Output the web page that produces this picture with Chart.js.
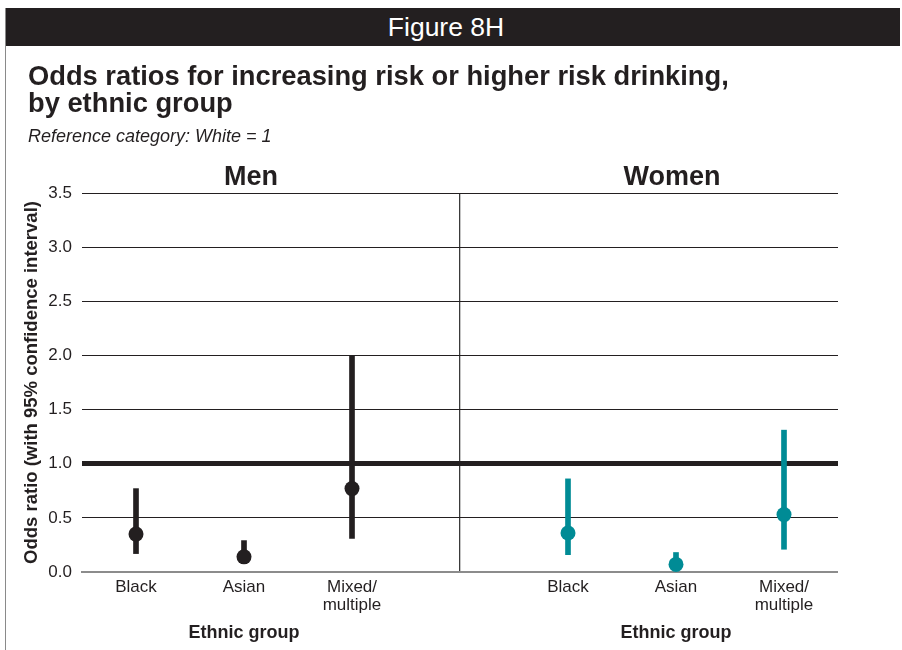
<!DOCTYPE html>
<html>
<head>
<meta charset="utf-8">
<script src="https://cdn.jsdelivr.net/npm/chart.js@4/dist/chart.umd.min.js"></script>
<style>
  html, body { margin: 0; padding: 0; background: #fff; }
  body { width: 902px; height: 650px; position: relative; overflow: hidden;
         font-family: "Liberation Sans", Arial, Helvetica, sans-serif; color: #231f20; }
  #frame { position: absolute; left: 5px; top: 8px; width: 1px; height: 642px; background: #8a8a8a; }
  #header { position: absolute; left: 6px; top: 8px; width: 880px; padding-right: 14px; height: 38px;
            background: #231f20; color: #fff; font-size: 26.5px; line-height: 39px; text-align: center; }
  #title { position: absolute; left: 28px; top: 62px; font-size: 27.3px; line-height: 27px; font-weight: bold;
           white-space: nowrap; }
  #subtitle { position: absolute; left: 28px; top: 126px; font-size: 18px; line-height: 20px; font-style: italic; }
  #chart { position: absolute; left: 0; top: 0; }
</style>
</head>
<body>
<canvas id="chart" width="902" height="650"></canvas>
<div id="frame"></div>
<div id="header">Figure 8H</div>
<div id="title">Odds ratios for increasing risk or higher risk drinking,<br>by ethnic group</div>
<div id="subtitle">Reference category: White = 1</div>
<script>
// Ethnic groups shown in each panel (White is the reference, OR = 1)
const groups = ['Black', 'Asian', ['Mixed/', 'multiple']];
const panels = ['Men', 'Women'];
const axisGroupTitle = 'Ethnic group';
const yTicks = [0, 0.5, 1, 1.5, 2, 2.5, 3, 3.5];

// Odds ratios with 95% confidence intervals
const menOR    = [0.35, 0.14, 0.77];
const menLow   = [0.17, 0.08, 0.31];
const menHigh  = [0.77, 0.29, 2.00];
const womenOR   = [0.36, 0.07, 0.53];
const womenLow  = [0.16, 0.03, 0.21];
const womenHigh = [0.86, 0.18, 1.31];

const INK = '#231f20';
const TEAL = '#008b95';

// Seven slots on the x axis: three men's groups, a spacer (panel divider), three women's groups
const labels = [...groups, '', ...groups];
const gap = [null];
const blank3 = [null, null, null];
const menCI = [...menLow.map((lo, i) => [lo, menHigh[i]]), ...gap, ...blank3];
const womenCI = [...blank3, ...gap, ...womenLow.map((lo, i) => [lo, womenHigh[i]])];
const menPts = [...menOR, ...gap, ...blank3];
const womenPts = [...blank3, ...gap, ...womenOR];
const DIVIDER_INDEX = 3;

const FONT = '"Liberation Sans", Arial, Helvetica, sans-serif';
Chart.defaults.font.family = FONT;
Chart.defaults.color = INK;

// Panel headings above and group titles below each panel
const panelText = {
  id: 'panelText',
  afterDraw(chart) {
    const { ctx, scales: { x } } = chart;
    ctx.save();
    ctx.fillStyle = INK;
    ctx.textAlign = 'center';
    ctx.textBaseline = 'alphabetic';
    ctx.font = 'bold 27px ' + FONT;
    ctx.fillText(panels[0], x.getPixelForValue(1) + 7, 185);
    ctx.fillText(panels[1], x.getPixelForValue(5) - 4, 185);
    ctx.font = 'bold 18px ' + FONT;
    ctx.fillText(axisGroupTitle, x.getPixelForValue(1), 638);
    ctx.fillText(axisGroupTitle, x.getPixelForValue(5), 638);
    ctx.restore();
  }
};

new Chart(document.getElementById('chart'), {
  type: 'bar',
  data: {
    labels,
    datasets: [
      { type: 'bar', data: menCI, backgroundColor: INK, barThickness: 5, grouped: false, order: 2 },
      { type: 'bar', data: womenCI, backgroundColor: TEAL, barThickness: 5, grouped: false, order: 2 },
      { type: 'line', data: menPts, showLine: false, pointRadius: 7.5, pointBackgroundColor: INK,
        pointBorderWidth: 0, order: 1 },
      { type: 'line', data: womenPts, showLine: false, pointRadius: 7.5, pointBackgroundColor: TEAL,
        pointBorderWidth: 0, order: 1 }
    ]
  },
  options: {
    responsive: false,
    animation: false,
    devicePixelRatio: 1,
    layout: { padding: { top: 193, right: 64, bottom: 0, left: 0 } },
    plugins: { legend: { display: false }, tooltip: { enabled: false } },
    scales: {
      x: {
        offset: true,
        afterFit(s) { s.height = 78; },
        grid: {
          offset: false,
          drawTicks: false,
          color: '#3a3a3a',
          lineWidth: (c) => (c.index === DIVIDER_INDEX ? 1.3 : 0)
        },
        border: { display: true, color: '#8c8c8c', width: 2 },
        ticks: {
          padding: 6,
          font: { size: 17, lineHeight: 1.08 },
          color: INK,
          maxRotation: 0,
          autoSkip: false
        }
      },
      y: {
        min: 0,
        max: 3.5,
        afterFit(s) { s.width = 82; },
        afterBuildTicks(s) { s.ticks = yTicks.map(v => ({ value: v })); },
        grid: {
          drawTicks: false,
          color: (c) => (c.tick && c.tick.value === 0 ? 'rgba(0,0,0,0)' : INK),
          lineWidth: (c) => (c.tick && c.tick.value === 1 ? 5 : 1)
        },
        border: { display: false },
        title: {
          display: true,
          text: 'Odds ratio (with 95% confidence interval)',
          font: { size: 18.5, weight: 'bold' },
          color: INK,
          padding: { top: 21, bottom: 0 }
        },
        ticks: {
          padding: 10,
          font: { size: 17 },
          color: INK,
          callback: (v) => Number(v).toFixed(1)
        }
      }
    }
  },
  plugins: [panelText]
});
</script>
</body>
</html>
